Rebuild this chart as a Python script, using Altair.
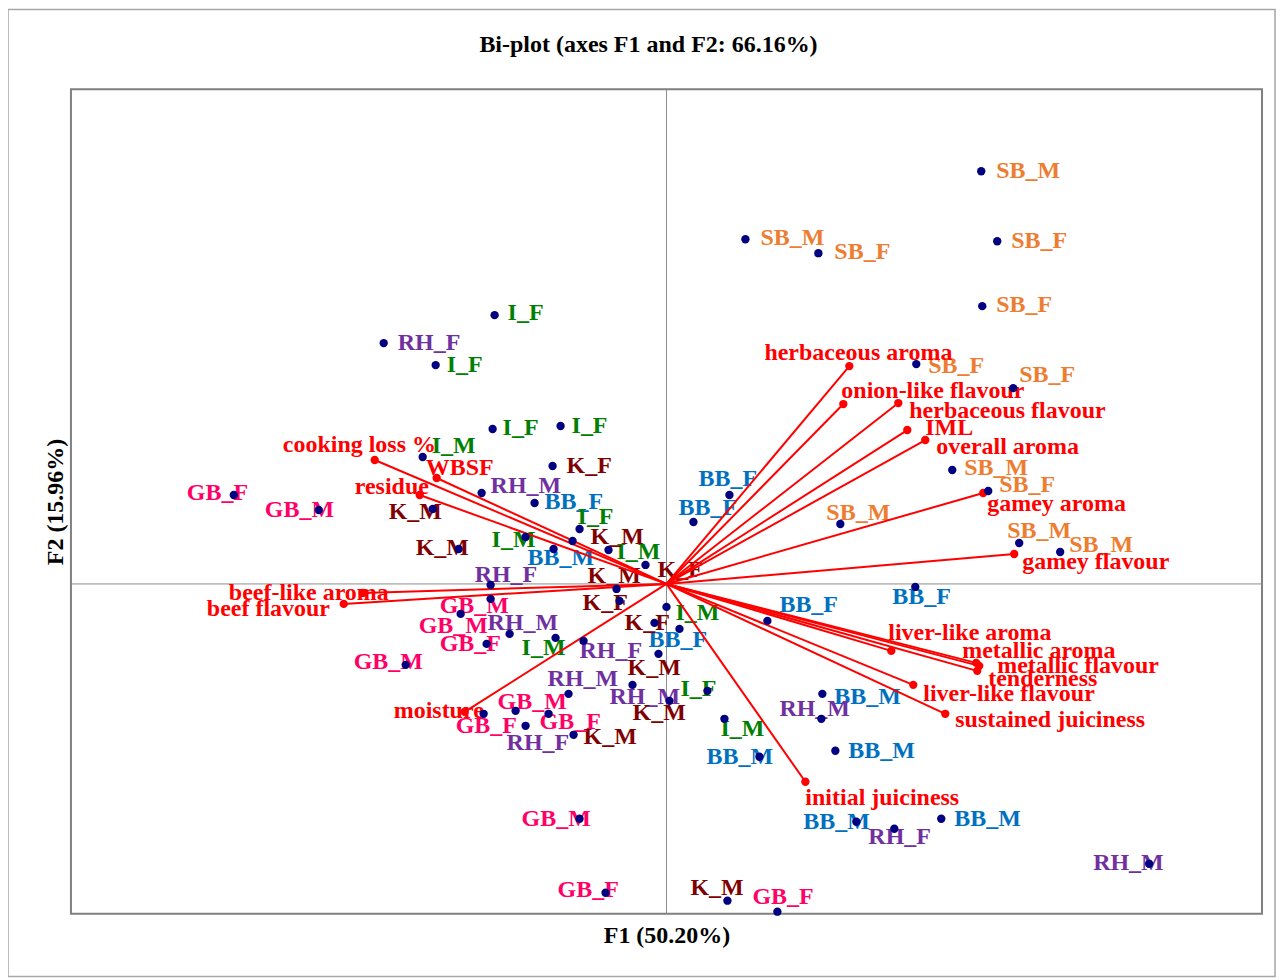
import altair as alt
import pandas as pd

# ---------------- observations (F1, F2 scores) ----------------
obs_names = [
    "SB_M", "SB_M", "SB_F", "SB_F", "SB_F", "SB_F", "SB_F", "SB_M", "SB_F", "SB_M", "SB_M", "SB_M",
    "BB_F", "BB_F", "BB_F", "BB_M", "BB_F", "BB_F", "BB_F", "BB_M", "BB_M", "BB_M", "BB_M", "BB_M",
    "I_F", "I_F", "I_F", "I_F", "I_M", "I_F", "I_M", "I_M", "I_M", "I_M", "I_F", "I_M",
    "RH_F", "RH_M", "RH_F", "RH_M", "RH_F", "RH_M", "RH_M", "RH_M", "RH_F", "RH_F", "RH_M",
    "K_F", "K_M", "K_M", "K_M", "K_F", "K_M", "K_F", "K_F", "K_M", "K_M", "K_M", "K_M",
    "GB_F", "GB_M", "GB_M", "GB_M", "GB_F", "GB_M", "GB_F", "GB_M", "GB_F", "GB_M", "GB_F", "GB_F",
]
obs_f1 = [
    3.15, 0.79, 1.52, 3.31, 3.16, 2.50, 3.47, 2.86, 3.22, 1.74, 3.53, 3.94,
    0.63, 0.27, -1.32, -1.13, 2.49, 1.01, 0.13, 1.56, 1.69, 0.93, 1.90, 2.75,
    -1.72, -2.31, -1.74, -1.06, -2.44, -0.87, -1.41, -0.58, 0.00, -1.11, 0.41, 0.58,
    -2.83, -1.85, -1.76, -1.57, -0.83, -0.98, -0.34, 1.55, -1.41, 2.28, 4.83,
    -1.14, -2.34, -0.94, -2.08, -0.21, -0.50, -0.47, -0.12, -0.08, 0.03, -0.93, 0.61,
    -4.33, -3.48, -1.76, -2.06, -1.80, -2.61, -1.83, -1.51, -1.18, -0.87, -0.61, 1.11,
]
obs_f2 = [
    4.13, 3.45, 3.31, 3.43, 2.78, 2.20, 1.96, 1.14, 0.93, 0.60, 0.41, 0.32,
    0.89, 0.62, 0.81, 0.35, -0.03, -0.37, -0.45, -1.10, -1.67, -1.73, -2.38, -2.35,
    2.69, 2.19, 1.55, 1.58, 1.27, 0.55, 0.47, 0.34, -0.23, -0.54, -1.07, -1.35,
    2.41, 0.91, -0.01, -0.50, -0.57, -1.10, -1.01, -1.35, -1.42, -2.45, -2.80,
    1.18, 0.75, 0.43, 0.35, 0.19, -0.05, -0.17, -0.39, -0.70, -1.17, -1.51, -3.17,
    0.89, 0.74, -0.15, -0.30, -0.60, -0.81, -1.30, -1.27, -1.30, -2.35, -3.09, -3.28,
]
# where each observation label sits (left edge, vertical middle), in F1/F2 units
obs_lab_f1 = [
    3.30, 0.94, 1.68, 3.45, 3.30, 2.62, 3.53, 2.98, 3.33, 1.60, 3.41, 4.03,
    0.32, 0.12, -1.22, -1.39, 2.26, 1.13, -0.18, 1.68, 1.82, 0.40, 1.37, 2.88,
    -1.59, -2.20, -1.64, -0.95, -2.35, -0.89, -1.75, -0.50, 0.09, -1.45, 0.14, 0.54,
    -2.69, -1.76, -1.92, -1.79, -0.87, -1.19, -0.57, 1.13, -1.60, 2.02, 4.27,
    -1.00, -2.78, -0.76, -2.51, -0.09, -0.79, -0.84, -0.42, -0.39, -0.34, -0.83, 0.24,
    -4.80, -4.02, -2.27, -2.48, -2.27, -3.13, -2.11, -1.69, -1.27, -1.45, -1.09, 0.86,
]
obs_lab_f2 = [
    4.13, 3.46, 3.32, 3.43, 2.79, 2.18, 2.09, 1.16, 0.99, 0.71, 0.53, 0.39,
    1.05, 0.76, 0.82, 0.26, -0.13, -0.21, -0.56, -1.13, -1.67, -1.73, -2.38, -2.35,
    2.71, 2.19, 1.56, 1.58, 1.38, 0.67, 0.44, 0.32, -0.29, -0.64, -1.05, -1.45,
    2.41, 0.98, 0.09, -0.39, -0.67, -0.95, -1.13, -1.25, -1.59, -2.53, -2.79,
    1.18, 0.72, 0.47, 0.36, 0.14, 0.08, -0.19, -0.39, -0.84, -1.29, -1.53, -3.04,
    0.91, 0.74, -0.22, -0.42, -0.60, -0.78, -1.42, -1.18, -1.38, -2.35, -3.06, -3.13,
]

# ---------------- variables (loadings) ----------------
var_names = [
    "herbaceous aroma", "onion-like flavour", "herbaceous flavour", "IML", "overall aroma",
    "gamey aroma", "gamey flavour", "liver-like aroma", "metallic aroma", "metallic flavour",
    "tenderness", "liver-like flavour", "sustained juiciness", "initial juiciness", "moisture",
    "beef flavour", "beef-like aroma", "residue", "WBSF", "cooking loss %",
]
var_f1 = [1.83, 1.77, 2.32, 2.41, 2.59, 3.17, 3.48, 2.25, 3.10, 3.13,
          3.11, 2.47, 2.79, 1.39, -2.02, -3.23, -3.04, -2.47, -2.30, -2.92]
var_f2 = [2.18, 1.80, 1.81, 1.54, 1.44, 0.91, 0.30, -0.67, -0.79, -0.82,
          -0.87, -1.01, -1.30, -1.98, -1.28, -0.20, -0.09, 0.89, 1.06, 1.24]
var_lab_f1 = [0.98, 1.75, 2.43, 2.59, 2.70, 3.21, 3.56, 2.22, 2.96, 3.31,
              3.22, 2.57, 2.89, 1.39, -2.73, -4.60, -4.38, -3.12, -2.41, -3.84]
var_lab_f2 = [2.31, 1.93, 1.73, 1.56, 1.37, 0.80, 0.22, -0.49, -0.67, -0.82,
              -0.95, -1.10, -1.36, -2.14, -1.27, -0.25, -0.09, 0.97, 1.16, 1.39]

groups = ["SB", "BB", "I", "RH", "K", "GB"]
group_colors = ["#ED7D31", "#0070C0", "#008000", "#7030A0", "#800000", "#FF0066"]

F1_DOMAIN = [-5.96, 5.96]
F2_DOMAIN = [-3.30, 4.95]
FONT = "Liberation Serif"
FS = 24

obs = pd.DataFrame({
    "name": obs_names, "f1": obs_f1, "f2": obs_f2,
    "lf1": obs_lab_f1, "lf2": obs_lab_f2,
    "group": [n.split("_")[0] for n in obs_names],
})
var = pd.DataFrame({
    "name": var_names, "f1": var_f1, "f2": var_f2,
    "lf1": var_lab_f1, "lf2": var_lab_f2, "o1": 0.0, "o2": 0.0,
})
one = pd.DataFrame({"z": [0.0]})

xs = alt.Scale(domain=F1_DOMAIN, nice=False, zero=False)
ys = alt.Scale(domain=F2_DOMAIN, nice=False, zero=False)

x_axis = alt.Axis(title="F1 (50.20%)", labels=False, ticks=False, domain=False, grid=False,
                  titleFont=FONT, titleFontSize=FS, titleFontWeight="bold", titleColor="black",
                  titlePadding=10)
y_axis = alt.Axis(title="F2 (15.96%)", labels=False, ticks=False, domain=False, grid=False,
                  titleFont=FONT, titleFontSize=FS, titleFontWeight="bold", titleColor="black",
                  titlePadding=3)


def X(field):
    return alt.X(field, type="quantitative", scale=xs, axis=x_axis)


def Y(field):
    return alt.Y(field, type="quantitative", scale=ys, axis=y_axis)


frame = alt.Chart(one).mark_rect(fillOpacity=0, stroke="#A6A6A6", strokeWidth=1.5).encode(
    x=alt.value(-63), x2=alt.value(1205), y=alt.value(-80), y2=alt.value(888)
)

vline = alt.Chart(one).mark_rule(color="#8C8C8C", strokeWidth=1).encode(x=X("z"))
hline = alt.Chart(one).mark_rule(color="#8C8C8C", strokeWidth=1).encode(y=Y("z"))

obs_text = alt.Chart(obs).mark_text(
    align="left", baseline="middle", font=FONT, fontSize=FS, fontWeight="bold"
).encode(
    x=X("lf1"), y=Y("lf2"),
    text="name:N",
    color=alt.Color("group:N", scale=alt.Scale(domain=groups, range=group_colors), legend=None),
)

var_text = alt.Chart(var).mark_text(
    align="left", baseline="middle", font=FONT, fontSize=FS, fontWeight="bold", color="#FF0000"
).encode(x=X("lf1"), y=Y("lf2"), text="name:N")

vectors = alt.Chart(var).mark_rule(color="#FF0000", strokeWidth=2).encode(
    x=X("o1"), y=Y("o2"), x2="f1:Q", y2="f2:Q",
)

var_dots = alt.Chart(var).mark_circle(size=70, color="#FF0000", opacity=1).encode(
    x=X("f1"), y=Y("f2"),
)

obs_dots = alt.Chart(obs).mark_circle(size=70, color="#000080", opacity=1).encode(
    x=X("f1"), y=Y("f2"),
)

chart = alt.layer(
    frame, vline, hline, obs_text, var_text, vectors, var_dots, obs_dots
).properties(
    width=1192, height=825,
    background="white",
    autosize=alt.AutoSizeParams(type="none"),
    padding={"left": 63, "top": 81, "right": 14, "bottom": 64},
    title=alt.TitleParams(
        "Bi-plot (axes F1 and F2: 66.16%)", font=FONT, fontSize=FS, fontWeight="bold",
        color="black", anchor="middle", frame="group", offset=33, dx=-18, dy=81,
    ),
).configure_view(stroke="#808080", strokeWidth=2)

chart.save("out.html", embed_options={"renderer": "svg", "actions": False})
